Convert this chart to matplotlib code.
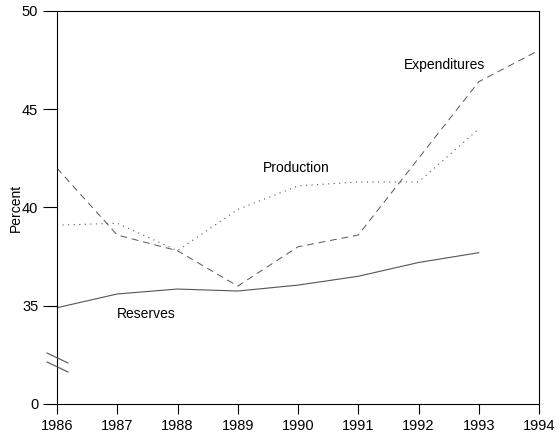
import numpy as np
from matplotlib import pyplot as plt
from matplotlib.lines import Line2D

plt.rcParams['font.family'] = ['Liberation Sans', 'DejaVu Sans']

years = [1986, 1987, 1988, 1989, 1990, 1991, 1992, 1993, 1994]

# the axis is broken: the bottom tick "0" sits where 30 would be
expenditures = [42.0, 38.6, 37.8, 36.0, 38.0, 38.6, 42.5, 46.4, 48.0]
production = [39.1, 39.2, 37.8, 39.9, 41.1, 41.3, 41.3, 44.0]
reserves = [34.9, 35.6, 35.85, 35.75, 36.05, 36.5, 37.2, 37.7]

ytick_pos = [30, 35, 40, 45, 50]
ytick_lab = ['0', '35', '40', '45', '50']

fig = plt.figure(figsize=(5.58, 4.38), dpi=100)
ax = fig.add_axes([57/558, 1-404/438, (539-57)/558, (404-11)/438])

ax.plot(years, expenditures, color='#555555', lw=0.7, linestyle=(0, (7, 5)))
ax.plot(years[:8], production, color='#555555', lw=0.8, linestyle=(0, (1, 4)))
ax.plot(years[:8], reserves, color='#555555', lw=0.8)

ax.text(1991.75, 47.25, 'Expenditures', fontsize=10, va='center')
ax.text(1989.42, 42.0, 'Production', fontsize=10, va='center')
ax.text(1987.0, 34.6, 'Reserves', fontsize=10, va='center')

ax.set_xlim(1986, 1994)
ax.set_ylim(30, 50)
ax.set_xticks(years)
ax.set_yticks(ytick_pos)
ax.set_yticklabels(ytick_lab)
ax.tick_params(axis='y', direction='out', length=10, labelsize=10.5)
ax.tick_params(axis='x', direction='out', length=7, labelsize=10.5)
ax.set_ylabel('Percent', fontsize=10)
ax.yaxis.set_label_coords(-0.07, 0.5)

# axis break marks
for dy in [0, 9]:
    ln = Line2D([47/558, 68/558], [1-(353+dy)/438, 1-(363+dy)/438],
                transform=fig.transFigure, color='#555555', lw=0.8)
    fig.add_artist(ln)

fig.savefig('out.png', dpi=100)
